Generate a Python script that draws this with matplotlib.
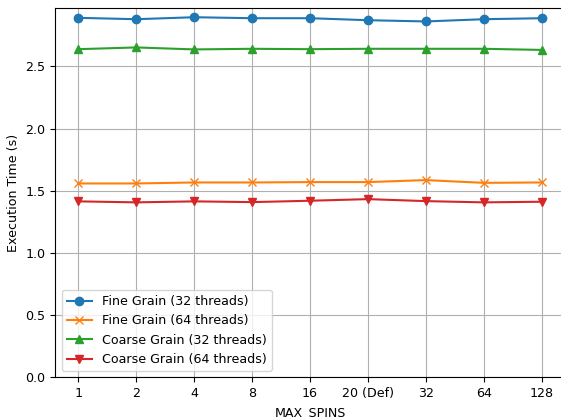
import matplotlib
matplotlib.use("Agg")
import matplotlib.pyplot as plt

plt.rcParams['font.size'] = 9.1

# valores de MAX_SPINS probados (20 es el valor por defecto)
max_spins = ["1", "2", "4", "8", "16", "20 (Def)", "32", "64", "128"]

# tiempos de ejecucion en segundos
fine_32 = [2.891, 2.880, 2.896, 2.888, 2.888, 2.872, 2.862, 2.880, 2.888]
fine_64 = [1.559, 1.559, 1.567, 1.567, 1.570, 1.570, 1.586, 1.564, 1.567]
coarse_32 = [2.639, 2.653, 2.637, 2.642, 2.639, 2.642, 2.642, 2.642, 2.633]
coarse_64 = [1.415, 1.407, 1.415, 1.409, 1.420, 1.433, 1.417, 1.407, 1.412]

fig = plt.figure(figsize=(5.61, 4.19), dpi=100)
ax = fig.add_axes([0.0986, 0.0995, 0.908, 0.8815])

ax.plot(max_spins, fine_32, marker='o', label='Fine Grain (32 threads)')
ax.plot(max_spins, fine_64, marker='x', label='Fine Grain (64 threads)')
ax.plot(max_spins, coarse_32, marker='^', label='Coarse Grain (32 threads)')
ax.plot(max_spins, coarse_64, marker='v', label='Coarse Grain (64 threads)')

ax.set_ylim(bottom=0)
ax.set_xlabel('MAX_SPINS')
ax.set_ylabel('Execution Time (s)')
ax.grid(True)
ax.legend(loc='lower left')

fig.savefig("out.png", dpi=100)
